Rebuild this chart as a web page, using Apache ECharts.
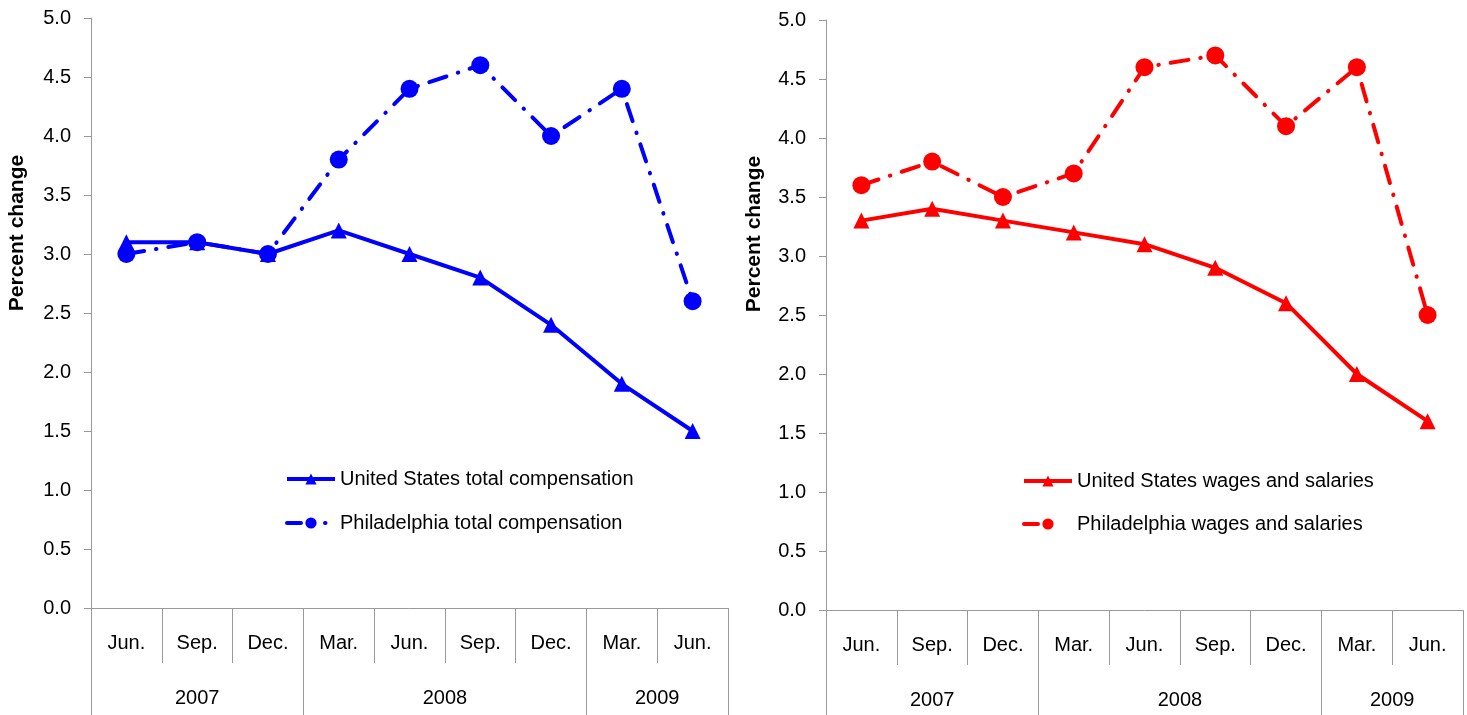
<!DOCTYPE html>
<html>
<head>
<meta charset="utf-8">
<script src="https://cdn.jsdelivr.net/npm/echarts@6/dist/echarts.min.js"></script>
<style>html,body{margin:0;padding:0;background:#fff}#c{width:1467px;height:715px}</style>
</head>
<body>
<div id="c"></div>
<script>
const months = ['Jun.','Sep.','Dec.','Mar.','Jun.','Sep.','Dec.','Mar.','Jun.'];
const years = ['2007','2008','2009'];
const yearSpans = [3, 4, 2];
const yTicks = [0,0.5,1,1.5,2,2.5,3,3.5,4,4.5,5];

const usTotalComp = [3.1, 3.1, 3.0, 3.2, 3.0, 2.8, 2.4, 1.9, 1.5];
const phlTotalComp = [3.0, 3.1, 3.0, 3.8, 4.4, 4.6, 4.0, 4.4, 2.6];
const usWages = [3.3, 3.4, 3.3, 3.2, 3.1, 2.9, 2.6, 2.0, 1.6];
const phlWages = [3.6, 3.8, 3.5, 3.7, 4.6, 4.7, 4.1, 4.6, 2.5];

const names = {
  usComp: 'United States total compensation',
  phlComp: 'Philadelphia total compensation',
  usWage: 'United States wages and salaries',
  phlWage: 'Philadelphia wages and salaries'
};

const yearBounds = [0];
yearSpans.forEach(s => yearBounds.push(yearBounds[yearBounds.length-1] + s));
const yearCenters = yearSpans.map((s, i) => yearBounds[i] + s / 2);

const FONT = 'Liberation Sans, Arial, sans-serif';
const FS = 20;
const axisGray = '#999999';

function monthAxis(gridIndex) {
  return {
    type: 'category', gridIndex, data: months, boundaryGap: true,
    axisLine: {show: true, lineStyle: {color: axisGray, width: 1}},
    axisTick: {show: true, interval: 0, length: 55, lineStyle: {color: axisGray}},
    axisLabel: {interval: 0, margin: 25, color: '#000', fontSize: FS, fontFamily: FONT},
    splitLine: {show: false}
  };
}
function yearAxis(gridIndex) {
  return {
    type: 'value', gridIndex, min: 0, max: months.length, position: 'bottom',
    axisLine: {show: false},
    axisTick: {show: true, length: 110, customValues: yearBounds, lineStyle: {color: axisGray}},
    axisLabel: {
      show: true, margin: 80, color: '#000', fontSize: FS, fontFamily: FONT,
      customValues: yearCenters,
      formatter: v => { const i = yearCenters.indexOf(v); return i >= 0 ? years[i] : ''; }
    },
    splitLine: {show: false}
  };
}
function yAxis(gridIndex) {
  return {
    type: 'value', gridIndex, min: 0, max: 5, interval: 0.5,
    axisLine: {show: true, lineStyle: {color: axisGray}},
    axisTick: {show: true, length: 7, lineStyle: {color: axisGray}},
    axisLabel: {margin: 20, color: '#000', fontSize: FS, fontFamily: FONT, formatter: v => v.toFixed(1)},
    splitLine: {show: false}
  };
}
const dashDot = [18, 12, 0.5, 12];
function line(name, data, color, xi, yi, dashed) {
  return {
    name, type: 'line', data, xAxisIndex: xi, yAxisIndex: yi,
    symbol: dashed ? 'circle' : 'triangle',
    symbolSize: dashed ? 18 : 16,
    showAllSymbol: true,
    lineStyle: {color, width: 4, type: dashed ? dashDot : 'solid', cap: dashed ? 'round' : 'butt'},
    itemStyle: {color},
    z: dashed ? 3 : 2,
    animation: false
  };
}

const legendText = {fontSize: FS, color: '#000', fontFamily: FONT};
const chart = echarts.init(document.getElementById('c'), null, {renderer: 'canvas'});
chart.setOption({
  backgroundColor: '#fff',
  animation: false,
  textStyle: {fontFamily: FONT},
  grid: [
    {left: 91, right: 739, top: 18, bottom: 107, containLabel: false},
    {left: 826, right: 4, top: 20, bottom: 105, containLabel: false}
  ],
  xAxis: [monthAxis(0), yearAxis(0), monthAxis(1), yearAxis(1)],
  yAxis: [yAxis(0), yAxis(1)],
  legend: [
    {
      orient: 'vertical', left: 285, top: 469, padding: 0, itemGap: 24, itemWidth: 48, itemHeight: 14,
      textStyle: legendText,
      data: [
        {name: names.usComp, lineStyle: {width: 4}},
        {name: names.phlComp, lineStyle: {width: 4, type: [14, 24, 0.5, 30], cap: 'round'}}
      ]
    },
    {
      orient: 'vertical', left: 1022, top: 471, padding: 0, itemGap: 23, itemWidth: 48, itemHeight: 14,
      textStyle: legendText,
      data: [
        {name: names.usWage, lineStyle: {width: 4}},
        {name: names.phlWage, lineStyle: {width: 4, type: [14, 60], cap: 'round'}}
      ]
    }
  ],
  graphic: [
    {type: 'text', x: 17, y: 233, rotation: Math.PI / 2,
     style: {text: 'Percent change', font: 'bold 21px ' + FONT, fill: '#000', align: 'center', verticalAlign: 'middle'}},
    {type: 'text', x: 754, y: 234, rotation: Math.PI / 2,
     style: {text: 'Percent change', font: 'bold 21px ' + FONT, fill: '#000', align: 'center', verticalAlign: 'middle'}}
  ],
  series: [
    line(names.usComp, usTotalComp, '#0000FF', 0, 0, false),
    line(names.phlComp, phlTotalComp, '#0000FF', 0, 0, true),
    line(names.usWage, usWages, '#FF0000', 2, 1, false),
    line(names.phlWage, phlWages, '#FF0000', 2, 1, true)
  ]
});
</script>
</body>
</html>
